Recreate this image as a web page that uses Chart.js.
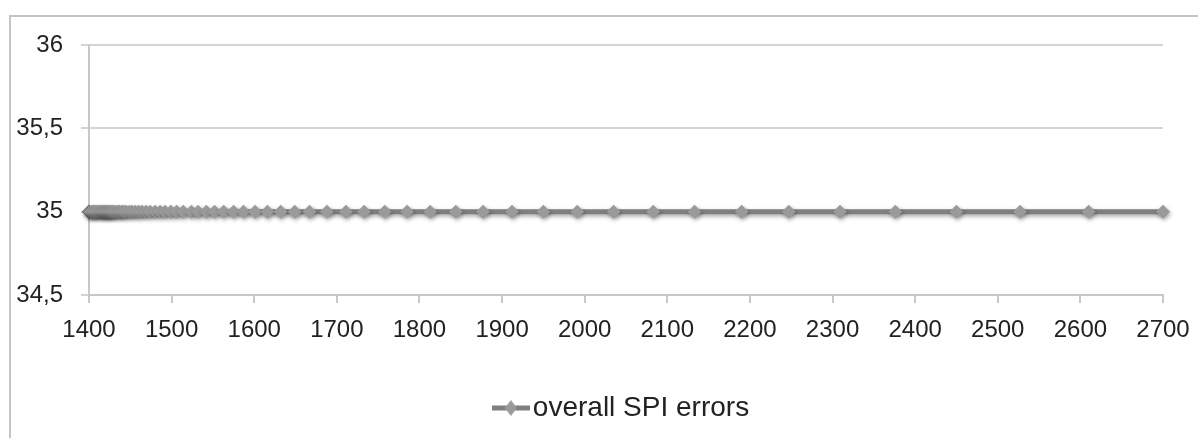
<!DOCTYPE html>
<html>
<head>
<meta charset="utf-8">
<script src="https://cdn.jsdelivr.net/npm/chart.js@4.4.1/dist/chart.umd.min.js"></script>
<style>
  html, body { margin: 0; padding: 0; background: #fff; overflow: hidden; }
  #wrap { position: relative; width: 1198px; height: 438px; }
  #frame { position: absolute; left: 9px; top: 15px; width: 1200px; height: 440px;
           border-left: 2px solid #c4c4c4; border-top: 2px solid #c4c4c4; box-sizing: border-box; }
  #chart { position: absolute; left: 0; top: 0; }
</style>
</head>
<body>
<div id="wrap">
  <div id="frame"></div>
  <canvas id="chart" width="1198" height="438"></canvas>
</div>
<script>
// sample positions (dense near 1400)
const xValues = [
  1400, 1401, 1403, 1405, 1406, 1408, 1410, 1412, 1414, 1416,
  1417, 1419, 1420, 1422, 1423, 1425, 1426, 1428, 1430, 1432,
  1435, 1437, 1440, 1442, 1445, 1449, 1452, 1456, 1460, 1464,
  1469, 1474, 1480, 1486, 1492, 1499, 1506, 1514, 1524, 1532,
  1542, 1552, 1563, 1575, 1587, 1601, 1616, 1632, 1649, 1667,
  1688, 1711, 1733, 1758, 1785, 1813, 1844, 1877, 1912, 1950,
  1991, 2035, 2083, 2133, 2190, 2247, 2309, 2376, 2450, 2527,
  2610, 2700
];
const errorValues = [
  35, 35, 35, 35, 35, 35, 35, 35, 35, 35,
  35, 35, 35, 35, 35, 35, 35, 35, 35, 35,
  35, 35, 35, 35, 35, 35, 35, 35, 35, 35,
  35, 35, 35, 35, 35, 35, 35, 35, 35, 35,
  35, 35, 35, 35, 35, 35, 35, 35, 35, 35,
  35, 35, 35, 35, 35, 35, 35, 35, 35, 35,
  35, 35, 35, 35, 35, 35, 35, 35, 35, 35,
  35, 35
];
const seriesName = 'overall SPI errors';
const yTicks = [34.5, 35, 35.5, 36];
const yTickLabels = ['34,5', '35', '35,5', '36'];
const xTicks = [1400, 1500, 1600, 1700, 1800, 1900, 2000, 2100, 2200, 2300, 2400, 2500, 2600, 2700];

const FONT = "'Liberation Sans', Arial, sans-serif";

// legend icon: short line with a diamond, like the spreadsheet legend
function makeLegendIcon() {
    const c = document.createElement('canvas');
    c.width = 38; c.height = 18;
    const g = c.getContext('2d');
    g.strokeStyle = '#7f7f7f';
    g.lineWidth = 5;
    g.beginPath(); g.moveTo(0, 9); g.lineTo(38, 9); g.stroke();
    g.fillStyle = '#9a9a9a';
    g.beginPath(); g.moveTo(19, 1); g.lineTo(25, 9); g.lineTo(19, 17); g.lineTo(13, 9); g.closePath(); g.fill();
    return c;
}

const points = xValues.map((x, i) => ({ x: x, y: errorValues[i] }));
const pointColors = xValues.map((x, i) => i === 0 ? '#444' : '#9a9a9a');

const shadowPlugin = {
    id: 'shadow',
    beforeDatasetsDraw(chart) {
        const ctx = chart.ctx;
        ctx.save();
        ctx.shadowColor = 'rgba(0,0,0,0.35)';
        ctx.shadowBlur = 4;
        ctx.shadowOffsetX = 1;
        ctx.shadowOffsetY = 2;
    },
    afterDatasetsDraw(chart) {
        chart.ctx.restore();
    }
};

const ctx = document.getElementById('chart').getContext('2d');
new Chart(ctx, {
    type: 'line',
    data: {
        datasets: [{
            label: seriesName,
            data: points,
            borderColor: '#7f7f7f',
            borderWidth: 5,
            pointStyle: 'rectRot',
            pointRadius: 7,
            pointBackgroundColor: pointColors,
            pointBorderColor: pointColors,
            pointBorderWidth: 0,
            clip: false,
            tension: 0
        }]
    },
    options: {
        responsive: false,
        animation: false,
        devicePixelRatio: 1,
        layout: { padding: { left: 0, top: 45, right: 35, bottom: 6 } },
        plugins: {
            tooltip: { enabled: false },
            legend: {
                position: 'bottom',
                fullSize: false,
                labels: {
                    usePointStyle: true,
                    pointStyle: makeLegendIcon(),
                    pointStyleWidth: 16,
                    color: '#222',
                    padding: 10,
                    font: { family: FONT, size: 28 }
                }
            }
        },
        scales: {
            x: {
                type: 'linear',
                min: 1400,
                max: 2700,
                afterBuildTicks: (s) => { s.ticks = xTicks.map(v => ({ value: v })); },
                afterFit: (s) => { s.height = 89; s.paddingRight = 20; s.paddingLeft = 20; },
                grid: { display: true, drawOnChartArea: false, drawTicks: true, tickLength: 8, color: '#c8c8c8', lineWidth: 2 },
                border: { display: true, color: '#c8c8c8', width: 2 },
                ticks: {
                    autoSkip: false,
                    maxRotation: 0,
                    padding: 13,
                    color: '#222',
                    font: { family: FONT, size: 24 },
                    callback: (v) => String(v)
                }
            },
            y: {
                min: 34.5,
                max: 36,
                afterBuildTicks: (s) => { s.ticks = yTicks.map(v => ({ value: v })); },
                afterFit: (s) => { s.width = 89; },
                grid: { color: '#d4d4d4', lineWidth: 2, tickLength: 8 },
                border: { display: true, color: '#c8c8c8', width: 2 },
                ticks: {
                    padding: 18,
                    color: '#222',
                    font: { family: FONT, size: 24 },
                    callback: (v) => yTickLabels[yTicks.indexOf(v)]
                }
            }
        }
    },
    plugins: [shadowPlugin]
});
</script>
</body>
</html>
